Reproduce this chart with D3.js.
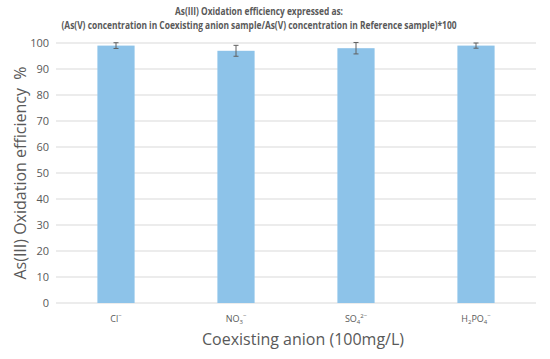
<!DOCTYPE html>
<html><head><meta charset="utf-8">
<script src="https://cdn.jsdelivr.net/npm/d3@7"></script>
<style>body{margin:0;background:#fff;} text{font-family:"Open Sans","Noto Sans",sans-serif;}</style>
</head><body>
<svg id="c" width="550" height="359"></svg>
<script>
const categories = ["Cl", "NO3", "SO4", "H2PO4"];
const values = [99, 97, 98, 99];
const errors = [1.1, 2.1, 2.2, 1.0];
const yTicks = [0,10,20,30,40,50,60,70,80,90,100];
// label parts: [text, type] type: n normal, sub, sup
const labelParts = [
  [["Cl","n"],["−","sup"]],
  [["NO","n"],["3","sub"],["−","sup"]],
  [["SO","n"],["4","sub"],["2−","sup"]],
  [["H","n"],["2","sub"],["PO","n"],["4","sub"],["−","sup"]]
];
const titleLines = ["As(III) Oxidation efficiency expressed as:",
  "(As(V) concentration in Coexisting anion sample/As(V) concentration in Reference sample)*100"];

const svg = d3.select("#c");
const m = {l:56, r:536, t:43, b:303};
const x = d3.scaleBand().domain(categories).range([m.l, m.r]).paddingInner(0.69).paddingOuter(0.345);
const y = d3.scaleLinear().domain([0,100]).range([m.b, m.t]);

// gridlines
svg.append("g").selectAll("line").data(yTicks).join("line")
  .attr("x1", m.l).attr("x2", m.r).attr("y1", d=>y(d)).attr("y2", d=>y(d))
  .attr("stroke", "#d9d9d9").attr("stroke-width", 1);

// y axis labels
svg.append("g").selectAll("text").data(yTicks).join("text")
  .attr("x", 49).attr("y", d=>y(d)).attr("dy","0.35em").attr("text-anchor","end")
  .attr("font-size", 11).attr("fill", "#595959").text(d=>d);

// bars
svg.append("g").selectAll("rect").data(categories).join("rect")
  .attr("x", d=>x(d)).attr("width", x.bandwidth())
  .attr("y", (d,i)=>y(values[i])).attr("height", (d,i)=>y(0)-y(values[i]))
  .attr("fill", "#8DC3E9");

// error bars
const eb = svg.append("g").attr("stroke", "#606060").attr("stroke-width", 1);
categories.forEach((c,i)=>{
  const cx = x(c) + x.bandwidth()/2;
  const y1 = y(values[i]+errors[i]), y2 = y(values[i]-errors[i]);
  eb.append("line").attr("x1",cx).attr("x2",cx).attr("y1",y1).attr("y2",y2);
  eb.append("line").attr("x1",cx-2.5).attr("x2",cx+2.5).attr("y1",y1).attr("y2",y1);
  eb.append("line").attr("x1",cx-2.5).attr("x2",cx+2.5).attr("y1",y2).attr("y2",y2);
});

// x tick labels
const offsets = {n:0, sub:2, sup:-4};
categories.forEach((c,i)=>{
  const t = svg.append("text").attr("x", x(c)+x.bandwidth()/2).attr("y", 322)
    .attr("text-anchor","middle").attr("font-size", 9).attr("fill","#595959");
  let cur = 0;
  labelParts[i].forEach(([s,tp])=>{
    const ts = t.append("tspan").text(s).attr("dy", offsets[tp]-cur);
    cur = offsets[tp];
    if (tp!=="n") ts.attr("font-size",6);
  });
});

// titles
svg.append("text").attr("x",259).attr("y",15).attr("text-anchor","middle")
  .attr("font-size",10).attr("font-weight","bold").attr("fill","#595959")
  .attr("textLength",168).attr("lengthAdjust","spacingAndGlyphs").text(titleLines[0]);
svg.append("text").attr("x",259).attr("y",29).attr("text-anchor","middle")
  .attr("font-size",10).attr("font-weight","bold").attr("fill","#595959")
  .attr("textLength",395).attr("lengthAdjust","spacingAndGlyphs").text(titleLines[1]);

// axis titles
svg.append("text").attr("transform","translate(26,173) rotate(-90)").attr("text-anchor","middle")
  .attr("font-size",16).attr("fill","#595959").text("As(III) Oxidation efficiency\u00a0\u00a0%");
svg.append("text").attr("x",303).attr("y",345).attr("text-anchor","middle")
  .attr("font-size",16).attr("fill","#595959").text("Coexisting anion (100mg/L)");
</script>
</body></html>
